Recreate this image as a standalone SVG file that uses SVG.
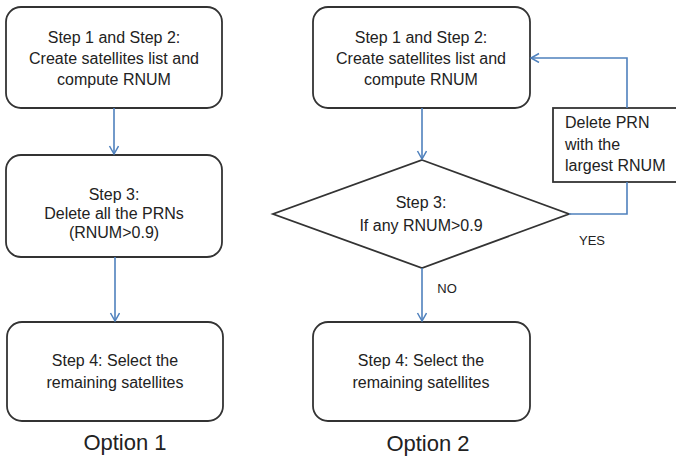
<svg xmlns="http://www.w3.org/2000/svg" width="676" height="458" viewBox="0 0 676 458">
  <defs>
    <marker id="arrow" markerWidth="12" markerHeight="12" refX="9" refY="5" orient="auto" markerUnits="userSpaceOnUse">
      <path d="M1,0.5 L9,5 L1,9.5" fill="none" stroke="#4f81bd" stroke-width="1.5"/>
    </marker>
  </defs>
  <style>
    .box { fill: #ffffff; stroke: #333333; stroke-width: 1.8; }
    .edge { fill: none; stroke: #4f81bd; stroke-width: 1.6; }
    .t { font-family: "Liberation Sans", Arial, sans-serif; font-size: 16px; fill: #222222; text-anchor: middle; }
    .tl { font-family: "Liberation Sans", Arial, sans-serif; font-size: 16px; fill: #222222; }
    .lbl { font-family: "Liberation Sans", Arial, sans-serif; font-size: 13px; fill: #222222; text-anchor: middle; }
    .cap { font-family: "Liberation Sans", Arial, sans-serif; font-size: 22px; fill: #222222; text-anchor: middle; }
  </style>
  <rect width="676" height="458" fill="#ffffff"/>

  <!-- Option 1 -->
  <g id="o1-step12">
    <rect class="box" x="6" y="7" width="216" height="101" rx="15"/>
    <text class="t" x="114" y="43">Step 1 and Step 2:</text>
    <text class="t" x="114" y="64">Create satellites list and</text>
    <text class="t" x="114" y="85">compute RNUM</text>
  </g>
  <g id="o1-step3">
    <rect class="box" x="6" y="155" width="216" height="102" rx="15"/>
    <text class="t" x="114" y="200">Step 3:</text>
    <text class="t" x="114" y="219">Delete all the PRNs</text>
    <text class="t" x="114" y="238">(RNUM&gt;0.9)</text>
  </g>
  <g id="o1-step4">
    <rect class="box" x="7" y="322" width="216" height="99" rx="15"/>
    <text class="t" x="115" y="366">Step 4: Select the</text>
    <text class="t" x="115" y="388">remaining satellites</text>
  </g>
  <text class="cap" x="125" y="450">Option 1</text>

  <!-- Option 2 -->
  <g id="o2-step12">
    <rect class="box" x="313" y="7" width="217" height="101" rx="15"/>
    <text class="t" x="421" y="43">Step 1 and Step 2:</text>
    <text class="t" x="421" y="64">Create satellites list and</text>
    <text class="t" x="421" y="85">compute RNUM</text>
  </g>
  <g id="o2-step3">
    <polygon class="box" points="422,160 569,214 422,268 273,214"/>
    <text class="t" x="421" y="208">Step 3:</text>
    <text class="t" x="421" y="231">If any RNUM&gt;0.9</text>
  </g>
  <g id="o2-delete">
    <rect class="box" x="553" y="108" width="130" height="74"/>
    <text class="tl" x="565" y="128">Delete PRN</text>
    <text class="tl" x="565" y="150">with the</text>
    <text class="tl" x="565" y="171">largest RNUM</text>
  </g>
  <g id="o2-step4">
    <rect class="box" x="313" y="322" width="217" height="99" rx="15"/>
    <text class="t" x="421" y="366">Step 4: Select the</text>
    <text class="t" x="421" y="388">remaining satellites</text>
  </g>
  <text class="cap" x="428" y="451">Option 2</text>

  <!-- connectors -->
  <g id="connectors">
    <line class="edge" x1="114" y1="108" x2="114" y2="154" marker-end="url(#arrow)"/>
    <line class="edge" x1="115" y1="257" x2="115" y2="321" marker-end="url(#arrow)"/>
    <line class="edge" x1="422" y1="108" x2="422" y2="159" marker-end="url(#arrow)"/>
    <line class="edge" x1="422" y1="268" x2="422" y2="321" marker-end="url(#arrow)"/>
    <polyline class="edge" points="569,214 627,214 627,182"/>
    <polyline class="edge" points="627,108 627,58 531,58" marker-end="url(#arrow)"/>
    <text class="lbl" x="592" y="245">YES</text>
    <text class="lbl" x="447" y="293">NO</text>
  </g>
</svg>
